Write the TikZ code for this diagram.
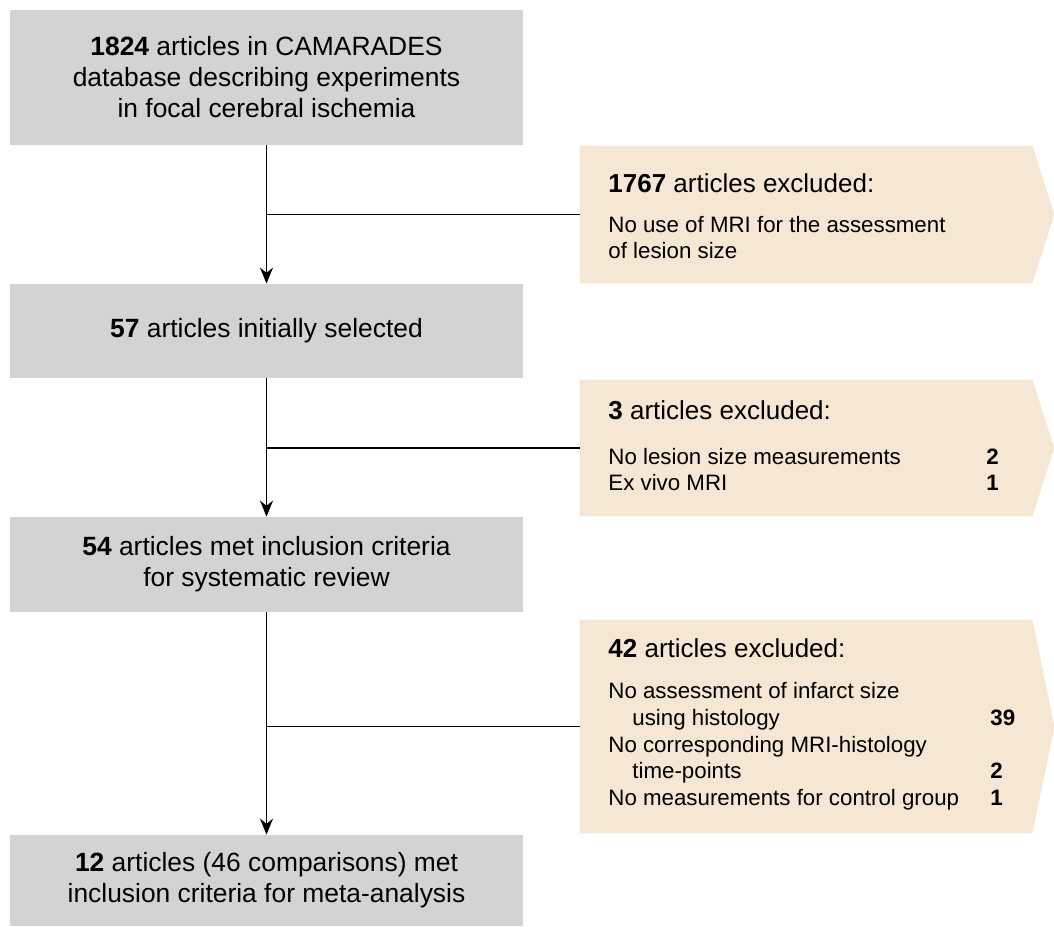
\documentclass[tikz,border=0pt]{standalone}
\usepackage{fontspec}
\setmainfont{Liberation Sans}
\usepackage{tikz}
\usetikzlibrary{arrows.meta}
\definecolor{boxgray}{RGB}{211,211,211}
\definecolor{boxbeige}{RGB}{246,230,212}

\begin{document}
\begin{tikzpicture}[x=0.5pt,y=-0.5pt,
    stage/.style={fill=boxgray,minimum width=256.5pt,align=center,inner sep=0pt,
      font=\fontsize{13.2pt}{15.5pt}\selectfont},
    excl/.style={minimum width=226pt,inner sep=0pt},
    head/.style={anchor=base west,inner sep=0pt,font=\fontsize{13pt}{15pt}\selectfont},
    item/.style={anchor=base west,inner sep=0pt,font=\fontsize{11.15pt}{13.5pt}\selectfont},
    num/.style={anchor=base west,inner sep=0pt,font=\fontsize{11.15pt}{13.5pt}\selectfont\bfseries},
    flow/.style={line width=0.8pt,-{Stealth[length=8pt,width=6.5pt]}}]
      \useasboundingbox (0,0) rectangle (1054,926);
      \node[stage,minimum height=67.5pt] (S1) at (266.5,77.5)
        {\textbf{1824} articles in CAMARADES\\database describing experiments\\in focal cerebral ischemia};
      \node[stage,minimum height=47pt] (S2) at (266.5,331) {\textbf{57} articles initially selected};
      \node[stage,minimum height=47.5pt] (S3) at (266.5,564.5)
        {\textbf{54} articles met inclusion criteria\\for systematic review};
      \node[stage,minimum height=45.5pt] (S4) at (266.5,880.5)
        {\textbf{12} articles (46 comparisons) met\\inclusion criteria for meta-analysis};

      \node[excl,minimum height=68.5pt] (E1) at (806,214.5) {};
      \node[excl,minimum height=68pt] (E2) at (806,448) {};
      \node[excl,minimum height=106.5pt] (E3) at (806,726.5) {};
      \foreach \e in {E1,E2,E3}
        \fill[boxbeige] (\e.north west) -- (\e.north east) -- ([xshift=11pt]\e.east)
          -- (\e.south east) -- (\e.south west) -- cycle;

      \node[head] (H1) at (608,192) {\textbf{1767} articles excluded:};
      \node[item] (A1) at (608,232) {No use of MRI for the assessment};
      \node[item] (A2) at (608,258) {of lesion size};

      \node[head] (H2) at (608,419) {\textbf{3} articles excluded:};
      \node[item] (B1) at (608,464) {No lesion size measurements};
      \node[num] (N1) at (986,464) {2};
      \node[item] (B2) at (608,490) {Ex vivo MRI};
      \node[num] (N2) at (986,490) {1};

      \node[head] (H3) at (608,657) {\textbf{42} articles excluded:};
      \node[item] (C1) at (608,698) {No assessment of infarct size};
      \node[item] (C2) at (632,725) {using histology};
      \node[num] (N3) at (990,725) {39};
      \node[item] (C3) at (608,752) {No corresponding MRI-histology};
      \node[item] (C4) at (632,778) {time-points};
      \node[num] (N4) at (990,778) {2};
      \node[item] (C5) at (608,805) {No measurements for control group};
      \node[num] (N5) at (990,805) {1};

      \draw[flow] (S1.south) to (S2.north);
      \draw[flow] (S2.south) to (S3.north);
      \draw[flow] (S3.south) to (S4.north);
      \draw[line width=0.8pt] (S1.south |- E1.west) to (E1.west);
      \draw[line width=0.8pt] (S2.south |- E2.west) to (E2.west);
      \draw[line width=0.8pt] (S3.south |- E3.west) to (E3.west);
    \end{tikzpicture}
\end{document}
